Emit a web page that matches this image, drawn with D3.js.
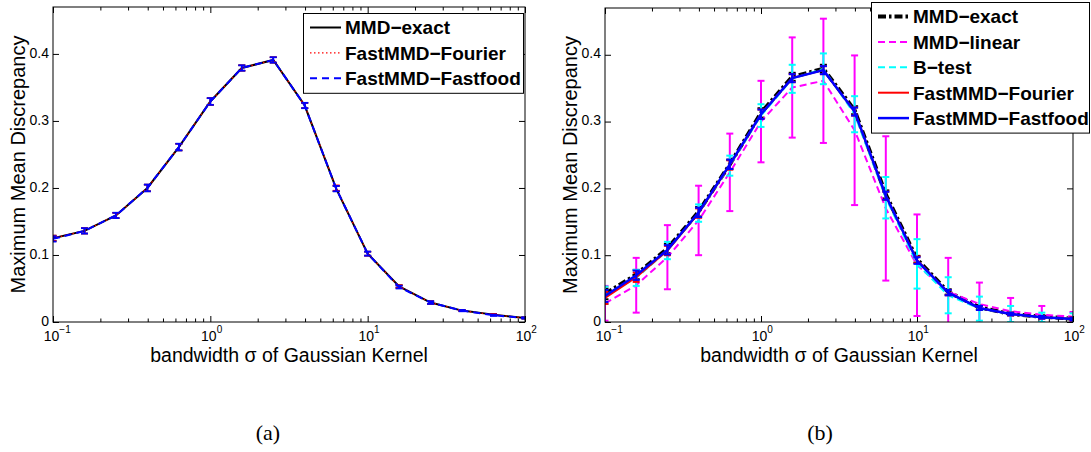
<!DOCTYPE html>
<html>
<head>
<meta charset="utf-8">
<script src="https://cdn.jsdelivr.net/npm/d3@7"></script>
<style>
  body { margin: 0; background: #fff; }
  text { font-family: "Liberation Sans", Arial, Helvetica, sans-serif; fill: #000; }
</style>
</head>
<body>
<div id="chart"></div>
<script>
// bandwidth values (x) shared by both panels
var sigma = [0.1, 0.1585, 0.2512, 0.3981, 0.631, 1, 1.585, 2.512, 3.981, 6.31, 10, 15.85, 25.12, 39.81, 63.1, 100];
var majorTicks = [0.1, 1, 10, 100];
var majorLabels = ["\u22121", "0", "1", "2"];
var yTicks = [0, 0.1, 0.2, 0.3, 0.4];

// panel (a)
var exactA    = [0.125, 0.136, 0.159, 0.200, 0.261, 0.329, 0.379, 0.391, 0.323, 0.199, 0.102, 0.053, 0.029, 0.017, 0.011, 0.006];
var fourierA  = [0.125, 0.136, 0.159, 0.200, 0.261, 0.329, 0.379, 0.391, 0.323, 0.200, 0.102, 0.053, 0.029, 0.017, 0.011, 0.006];
var fastfoodA = [0.124, 0.136, 0.159, 0.200, 0.261, 0.329, 0.379, 0.391, 0.323, 0.199, 0.102, 0.052, 0.029, 0.017, 0.010, 0.006];
var errA      = [0.004, 0.004, 0.004, 0.005, 0.005, 0.005, 0.004, 0.004, 0.004, 0.004, 0.003, 0.002, 0.002, 0.001, 0.001, 0.001];

// panel (b)
var exactB     = [0.042, 0.071, 0.110, 0.165, 0.236, 0.313, 0.367, 0.379, 0.317, 0.191, 0.094, 0.045, 0.022, 0.012, 0.008, 0.005];
var exactErrB  = [0.008, 0.007, 0.007, 0.007, 0.007, 0.007, 0.006, 0.006, 0.006, 0.006, 0.005, 0.004, 0.003, 0.002, 0.002, 0.002];
var linearB    = [0.028, 0.055, 0.097, 0.152, 0.224, 0.300, 0.351, 0.361, 0.287, 0.170, 0.085, 0.045, 0.027, 0.016, 0.011, 0.008];
var linearErrB = [0.026, 0.041, 0.048, 0.052, 0.058, 0.061, 0.075, 0.093, 0.112, 0.108, 0.076, 0.051, 0.032, 0.020, 0.013, 0.007];
var bTestB     = [0.040, 0.066, 0.107, 0.163, 0.234, 0.309, 0.364, 0.379, 0.311, 0.186, 0.087, 0.040, 0.020, 0.012, 0.007, 0.005];
var bTestErrB  = [0.013, 0.012, 0.013, 0.013, 0.015, 0.017, 0.021, 0.023, 0.027, 0.031, 0.037, 0.027, 0.018, 0.012, 0.007, 0.008];
var fourierB   = [0.036, 0.067, 0.107, 0.163, 0.235, 0.311, 0.365, 0.377, 0.315, 0.189, 0.093, 0.044, 0.021, 0.012, 0.007, 0.005];
var fastfoodB  = [0.039, 0.070, 0.108, 0.164, 0.236, 0.311, 0.365, 0.377, 0.315, 0.189, 0.092, 0.044, 0.021, 0.012, 0.007, 0.0045];
var fastErrB   = [0.009, 0.007, 0.007, 0.007, 0.007, 0.007, 0.006, 0.006, 0.006, 0.006, 0.005, 0.004, 0.003, 0.002, 0.002, 0.002];

var svgWidth = 1091;
var svgHeight = 452;
var yMax = 0.47;

var svg = d3.select("#chart")
  .append("svg")
  .attr("width", svgWidth)
  .attr("height", svgHeight);

svg.append("rect")
  .attr("width", svgWidth)
  .attr("height", svgHeight)
  .attr("fill", "#fff");

function drawPanel(id, box, series, legend, tag) {
  var x = d3.scaleLog().domain([0.1, 100]).range([box.left, box.right]);
  var y = d3.scaleLinear().domain([0, yMax]).range([box.bottom, box.top]);
  var minorTicks = x.ticks().filter(t => majorTicks.indexOf(t) < 0);

  var g = svg.append("g");

  g.append("clipPath")
    .attr("id", "clip-" + id)
    .append("rect")
    .attr("x", box.left)
    .attr("y", box.top)
    .attr("width", box.right - box.left)
    .attr("height", box.bottom - box.top);

  // ticks, all pointing inward (font set after the axis call, which resets it)
  function addAxis(axis, tx, ty) {
    g.append("g")
      .attr("transform", `translate(${tx}, ${ty})`)
      .call(axis)
      .attr("font-size", 14)
      .attr("font-family", "Liberation Sans, Arial, sans-serif")
      .call(s => s.select(".domain").remove());
  }
  addAxis(d3.axisBottom(x).tickValues(minorTicks).tickSize(-3.5).tickSizeOuter(0).tickFormat(""), 0, box.bottom);
  addAxis(d3.axisBottom(x).tickValues(majorTicks).tickSize(-6).tickSizeOuter(0).tickFormat(""), 0, box.bottom);
  addAxis(d3.axisTop(x).tickValues(minorTicks).tickSize(-3.5).tickSizeOuter(0).tickFormat(""), 0, box.top);
  addAxis(d3.axisTop(x).tickValues(majorTicks).tickSize(-6).tickSizeOuter(0).tickFormat(""), 0, box.top);
  addAxis(d3.axisLeft(y).tickValues(yTicks).tickSize(-6).tickSizeOuter(0).tickPadding(4).tickFormat(d => String(d)), box.left, 0);
  addAxis(d3.axisRight(y).tickValues(yTicks).tickSize(-6).tickSizeOuter(0).tickFormat(""), box.right, 0);
  g.selectAll("text").attr("dy", "0.22em");

  // x tick labels 10^k
  majorTicks.forEach(function(t, i) {
    g.append("text")
      .attr("x", x(t) - 1.5)
      .attr("y", box.bottom + 19)
      .attr("text-anchor", "middle")
      .attr("font-size", 14)
      .text("10");
    g.append("text")
      .attr("x", x(t) + 6.3)
      .attr("y", box.bottom + 11)
      .attr("font-size", 10)
      .text(majorLabels[i]);
  });

  // data
  var plot = g.append("g").attr("clip-path", `url(#clip-${id})`);
  var line = d3.line().x(d => x(d.s)).y(d => y(d.v));

  series.forEach(function(s) {
    var pts = sigma.map((v, i) => ({ s: v, v: s.values[i], e: s.err[i] }));

    plot.append("path")
      .datum(pts)
      .attr("fill", "none")
      .attr("stroke", s.color)
      .attr("stroke-width", s.width)
      .attr("stroke-dasharray", s.dash || null)
      .attr("d", line);

    var bars = plot.append("g")
      .attr("stroke", s.color)
      .attr("stroke-width", s.barWidth);
    pts.forEach(function(d) {
      var cx = x(d.s), y1 = y(d.v + d.e), y0 = y(d.v - d.e);
      bars.append("line").attr("x1", cx).attr("x2", cx).attr("y1", y1).attr("y2", y0);
      bars.append("line").attr("x1", cx - 3.5).attr("x2", cx + 3.5).attr("y1", y1).attr("y2", y1);
      bars.append("line").attr("x1", cx - 3.5).attr("x2", cx + 3.5).attr("y1", y0).attr("y2", y0);
    });
  });

  // frame
  g.append("rect")
    .attr("x", box.left)
    .attr("y", box.top)
    .attr("width", box.right - box.left)
    .attr("height", box.bottom - box.top)
    .attr("fill", "none")
    .attr("stroke", "#000")
    .attr("stroke-width", 1);

  // axis titles
  g.append("text")
    .attr("x", (box.left + box.right) / 2)
    .attr("y", box.bottom + 40)
    .attr("text-anchor", "middle")
    .attr("font-size", 19.5)
    .text("bandwidth \u03c3 of Gaussian Kernel");

  g.append("text")
    .attr("transform", `translate(${box.left - 28}, ${(box.top + box.bottom) / 2}) rotate(-90)`)
    .attr("text-anchor", "middle")
    .attr("font-size", 20)
    .text("Maximum Mean Discrepancy");

  // legend
  var rowGap = 25.4;
  var lg = g.append("g").attr("transform", `translate(${legend.x}, ${legend.y})`);
  lg.append("rect")
    .attr("x", 0.5)
    .attr("y", 0.5)
    .attr("width", legend.w)
    .attr("height", 29 + (series.length - 1) * rowGap)
    .attr("fill", "#fff")
    .attr("stroke", "#000")
    .attr("stroke-width", 1);
  series.forEach(function(s, i) {
    var ry = 14.5 + i * rowGap;
    lg.append("line")
      .attr("x1", 7).attr("x2", 38)
      .attr("y1", ry).attr("y2", ry)
      .attr("stroke", s.color)
      .attr("stroke-width", s.width)
      .attr("stroke-dasharray", s.dash || null);
    lg.append("text")
      .attr("x", 42)
      .attr("y", ry + 6.8)
      .attr("font-size", 19)
      .attr("font-weight", "bold")
      .text(s.name);
  });

  // sub-caption
  svg.append("text")
    .attr("x", tag.x)
    .attr("y", 440)
    .attr("text-anchor", "middle")
    .attr("font-size", 22)
    .style("font-family", "Liberation Serif, Times New Roman, serif")
    .text(tag.text);
}

drawPanel("a", { left: 53, right: 525, top: 7, bottom: 322 }, [
  { name: "MMD\u2212exact", values: exactA, err: errA, color: "#000", width: 2, barWidth: 1.5 },
  { name: "FastMMD\u2212Fourier", values: fourierA, err: errA, color: "#ff0000", width: 1.3, dash: "1.5,2.5", barWidth: 1.5 },
  { name: "FastMMD\u2212Fastfood", values: fastfoodA, err: errA, color: "#0000ff", width: 2, dash: "7,5", barWidth: 1.8 }
], { x: 303, y: 13, w: 220 }, { x: 268, text: "(a)" });

drawPanel("b", { left: 605, right: 1073, top: 8, bottom: 322 }, [
  { name: "MMD\u2212exact", values: exactB, err: exactErrB, color: "#000", width: 4, dash: "8,3,2.5,3", barWidth: 2 },
  { name: "MMD\u2212linear", values: linearB, err: linearErrB, color: "#ff00ff", width: 2, dash: "7,4", barWidth: 2 },
  { name: "B\u2212test", values: bTestB, err: bTestErrB, color: "#00ffff", width: 2, dash: "7,4", barWidth: 2 },
  { name: "FastMMD\u2212Fourier", values: fourierB, err: fastErrB, color: "#ff0000", width: 2, barWidth: 2 },
  { name: "FastMMD\u2212Fastfood", values: fastfoodB, err: fastErrB, color: "#0000ff", width: 2.5, barWidth: 2 }
], { x: 871, y: 2, w: 218 }, { x: 820, text: "(b)" });
</script>
</body>
</html>
